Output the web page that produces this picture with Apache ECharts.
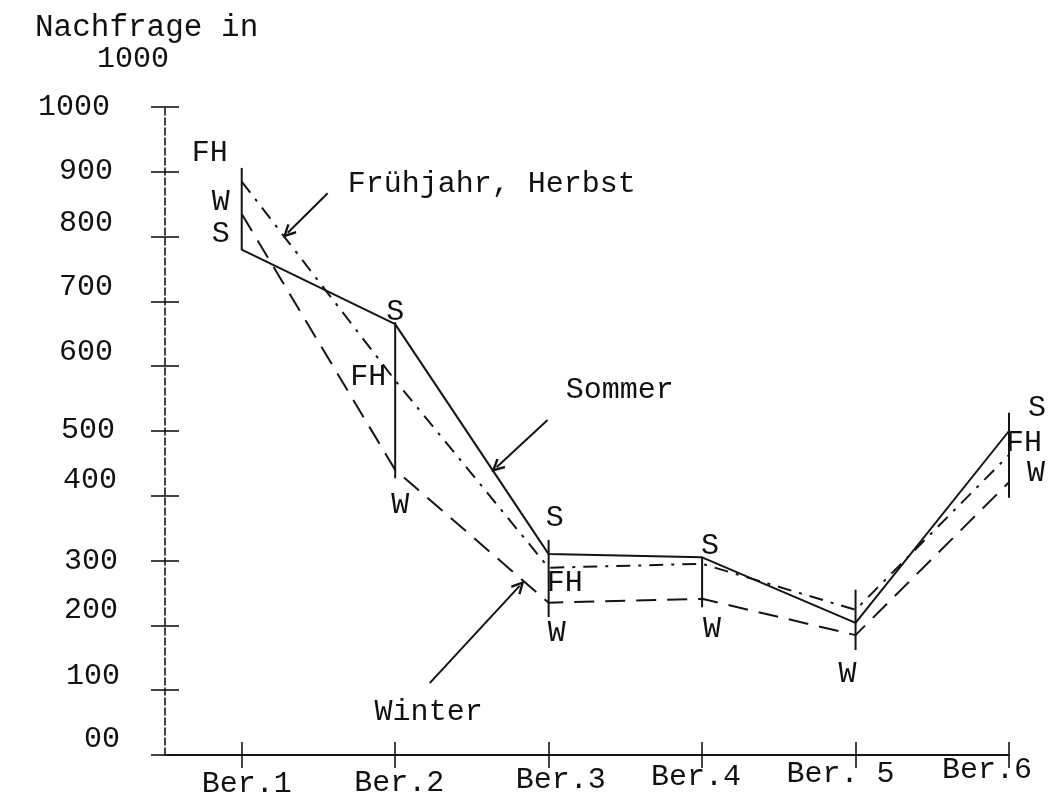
<!DOCTYPE html>
<html><head><meta charset="utf-8">
<script src="https://cdn.jsdelivr.net/npm/echarts@6/dist/echarts.min.js"></script>
<style>html,body{margin:0;padding:0;background:#fff}#c{width:1058px;height:801px}</style>
</head><body><div id="c"></div>
<script>
// ---- data ----
const categories = ['Ber.1', 'Ber.2', 'Ber.3', 'Ber.4', 'Ber. 5', 'Ber.6'];
const yTickLabels = ['00', '100', '200', '300', '400', '500', '600', '700', '800', '900', '1000'];
const sommer = [780, 665, 310, 305, 204, 500];
const fruehjahrHerbst = [885, 578, 289, 295, 224, 463];
const winter = [835, 440, 235, 241, 185, 421];
const rangeHigh = [906, 668, 332, 305, 255, 528];
const rangeLow = [779, 427, 213, 228, 162, 397];
const annotationTexts = ['Frühjahr, Herbst', 'Sommer', 'Winter'];

// ---- layout / style ----
const FONT = "'Liberation Mono', 'Courier New', monospace";
const INK = '#141414';
const annotationLayout = [
  { at: [1.691, 881], from: [1.560, 867], to: [1.300, 806] },
  { at: [3.111, 563], from: [2.993, 517], to: [2.661, 444] },
  { at: [1.866, 66], from: [2.225, 111], to: [2.811, 261] }
];
const pointLabelLayout = {
  S:  [[-21, -15], [0, -12], [6, -36], [8, -11], null, [28, -23]],
  FH: [[-32, -28], [-27, -3], [16, 15], null, null, [15, -12]],
  W:  [[-21, -12], [5, 35], [8, 30], [10, 30], [-8, 39], [27, -9]]
};
const xLabelShift = [[5, 14], [4, 13], [12, 10], [-6, 7], [-15, 4], [-22, 0]];
const yLabelShift = [[0, 16], [0, 14], [2, 15], [2, 0], [3, 16], [5, 1], [7, 14], [7, 14], [7, 14], [7, 1], [10, 0]];
const OPEN_ARROW = 'path://M10,0 L20,17 L17,19 L10,7 L3,19 L0,17 Z';

const xRich = {};
xLabelShift.forEach(([dx, dy], i) => {
  xRich['x' + i] = { padding: [dy, dx < 0 ? -2 * dx : 0, 0, dx > 0 ? 2 * dx : 0] };
});
const yRich = {};
yLabelShift.forEach(([pr, dy], i) => {
  yRich['y' + i] = { padding: [0, pr, 2 * dy, 0] };
});

function lineSeries(name, values, dash, tag, layout, extra) {
  return Object.assign({
    type: 'line', name: name,
    data: values.map((v, i) => {
      const item = { value: [i + 1, v] };
      if (layout[i]) item.label = { show: true, position: 'inside', offset: layout[i], formatter: tag };
      return item;
    }),
    symbol: 'circle', symbolSize: 1,
    itemStyle: { color: 'rgba(0,0,0,0)' },
    lineStyle: { color: INK, width: 2, type: dash },
    label: { show: false, color: '#111', fontFamily: FONT, fontSize: 30 },
    emphasis: { disabled: true }, silent: true, z: 3
  }, extra || {});
}

const chart = echarts.init(document.getElementById('c'), null, { renderer: 'canvas' });
chart.setOption({
  backgroundColor: '#fff',
  animation: false,
  title: [
    { text: 'Nachfrage in', left: 35, top: 12, padding: 0,
      textStyle: { fontFamily: FONT, fontSize: 31, fontWeight: 'normal', color: '#111' } },
    { text: '1000', left: 97, top: 44, padding: 0,
      textStyle: { fontFamily: FONT, fontSize: 30, fontWeight: 'normal', color: '#111' } }
  ],
  grid: { left: 165, right: 49, top: 107, bottom: 46 },
  xAxis: [
    { type: 'value', min: 0.5, max: 6, position: 'bottom',
      axisLine: { show: true, lineStyle: { color: INK, width: 2 } },
      axisTick: { show: true, inside: false, length: 13, customValues: [1, 2, 3, 4, 5, 6], lineStyle: { color: INK, width: 1.6 } },
      axisLabel: { show: true, margin: 0, customValues: [1, 2, 3, 4, 5, 6],
        fontFamily: FONT, fontSize: 30, color: '#111', rich: xRich,
        formatter: v => { const r = Math.round(v); if (Math.abs(v - r) > 1e-6 || r < 1 || r > 6) return ''; return '{x' + (r - 1) + '|' + categories[r - 1] + '}'; } },
      splitLine: { show: false } },
    { type: 'value', min: 0.5, max: 6, position: 'bottom',
      axisLine: { show: false },
      axisTick: { show: true, inside: true, length: 13, customValues: [1, 2, 3, 4, 5, 6], lineStyle: { color: INK, width: 1.6 } },
      axisLabel: { show: false }, splitLine: { show: false } }
  ],
  yAxis: [
    { type: 'value', min: 0, max: 1000, interval: 100, position: 'left',
      axisLine: { show: true, lineStyle: { color: INK, width: 1.6, type: [7, 3] } },
      axisTick: { show: true, inside: false, length: 14, lineStyle: { color: INK, width: 1.6 } },
      axisLabel: { show: true, margin: 45, fontFamily: FONT, fontSize: 30, color: '#111', rich: yRich,
        formatter: v => { const i = Math.round(v / 100); return '{y' + i + '|' + yTickLabels[i] + '}'; } },
      splitLine: { show: false } },
    { type: 'value', min: 0, max: 1000, interval: 100, position: 'left',
      axisLine: { show: false },
      axisTick: { show: true, inside: true, length: 14, lineStyle: { color: INK, width: 1.6 } },
      axisLabel: { show: false }, splitLine: { show: false } }
  ],
  series: [
    {
      type: 'custom', name: 'Spanne',
      data: rangeLow.map((lo, i) => [i + 1, lo, rangeHigh[i]]),
      encode: { x: 0, y: [1, 2] },
      renderItem: (params, api) => {
        const a = api.coord([api.value(0), api.value(1)]);
        const b = api.coord([api.value(0), api.value(2)]);
        return { type: 'line', shape: { x1: a[0], y1: a[1], x2: b[0], y2: b[1] },
          style: { stroke: INK, lineWidth: 2 } };
      },
      silent: true, z: 2
    },
    lineSeries('Sommer', sommer, 'solid', 'S', pointLabelLayout.S, {
      markLine: {
        silent: true, animation: false, symbol: ['none', OPEN_ARROW], symbolSize: [13, 14],
        label: { show: false },
        lineStyle: { color: INK, width: 2, type: 'solid' },
        emphasis: { disabled: true },
        data: annotationLayout.map(a => [{ coord: a.from }, { coord: a.to }])
      },
      markPoint: {
        silent: true, animation: false, symbol: 'circle', symbolSize: 0,
        itemStyle: { color: 'rgba(0,0,0,0)' },
        label: { show: true, position: 'right', distance: 0, color: '#111', fontFamily: FONT, fontSize: 30, formatter: '{b}' },
        data: annotationLayout.map((a, i) => ({ name: annotationTexts[i], coord: a.at }))
      }
    }),
    lineSeries('Frühjahr, Herbst', fruehjahrHerbst, [14, 8, 3, 8], 'FH', pointLabelLayout.FH),
    lineSeries('Winter', winter, [20, 11], 'W', pointLabelLayout.W)
  ]
});
</script>
</body></html>
